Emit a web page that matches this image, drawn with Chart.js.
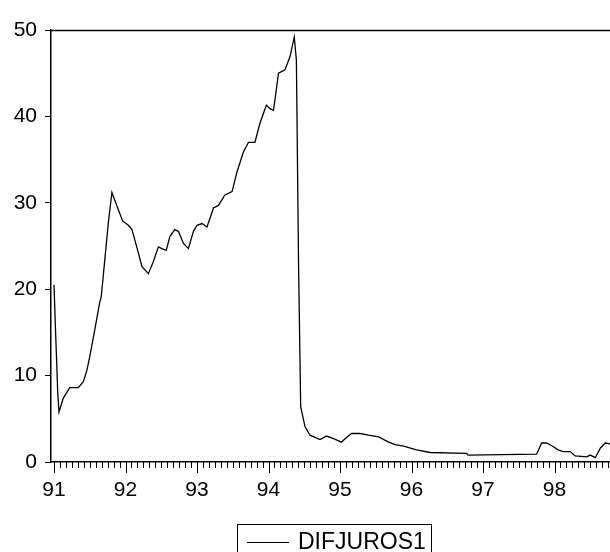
<!DOCTYPE html>
<html>
<head>
<meta charset="utf-8">
<script src="https://cdn.jsdelivr.net/npm/chart.js@4.4.1/dist/chart.umd.min.js"></script>
<style>
  html, body { margin: 0; padding: 0; background: #fff; }
  canvas { display: block; }
</style>
</head>
<body>
<canvas id="c" width="610" height="552"></canvas>
<script>
// datos (fecha en años decimales)
const seriesName = 'DIFJUROS1';
const fechas = [
  91.00, 91.02, 91.04, 91.052, 91.07, 91.13, 91.22, 91.34, 91.41, 91.46,
  91.50, 91.57, 91.64, 91.66, 91.70, 91.76, 91.81, 91.85, 91.90, 91.96,
  92.04, 92.09, 92.13, 92.18, 92.23, 92.32, 92.39, 92.46, 92.51, 92.57,
  92.62, 92.69, 92.74, 92.81, 92.88, 92.95, 93.00, 93.07, 93.14, 93.23,
  93.30, 93.39, 93.49, 93.56, 93.65, 93.72, 93.81, 93.88, 93.97, 94.02,
  94.07, 94.14, 94.23, 94.30, 94.36, 94.39, 94.42, 94.45, 94.51, 94.58,
  94.72, 94.81, 94.91, 95.02, 95.07, 95.16, 95.28, 95.40, 95.54, 95.68,
  95.77, 95.89, 96.07, 96.26, 96.77, 96.79, 97.75, 97.82, 97.89, 97.98,
  98.05, 98.12, 98.22, 98.29, 98.45, 98.50, 98.57, 98.64, 98.71, 98.78
];
const valores = [
  20.5, 15.5, 11.0, 8.0, 5.8, 7.4, 8.6, 8.6, 9.3, 10.6,
  12.2, 15.3, 18.5, 19.1, 22.5, 27.7, 31.2, 30.3, 29.2, 27.9,
  27.4, 26.9, 25.7, 24.2, 22.6, 21.8, 23.2, 24.9, 24.7, 24.5,
  26.1, 26.9, 26.7, 25.3, 24.7, 26.7, 27.4, 27.6, 27.2, 29.4,
  29.7, 30.9, 31.3, 33.6, 35.9, 37.0, 37.0, 39.2, 41.3, 40.9,
  40.7, 45.0, 45.4, 46.9, 49.2, 46.5, 23.0, 6.4, 4.1, 3.1,
  2.6, 3.0, 2.7, 2.3, 2.7, 3.3, 3.3, 3.1, 2.9, 2.3,
  2.0, 1.85, 1.4, 1.1, 1.0, 0.8, 0.9, 2.2, 2.2, 1.8,
  1.4, 1.2, 1.2, 0.7, 0.6, 0.8, 0.5, 1.6, 2.2, 2.1
];
const yTicks = [0, 10, 20, 30, 40, 50];
const xTicks = [91, 92, 93, 94, 95, 96, 97, 98];

const fuente = '"Liberation Sans", Arial, sans-serif';

// marco superior, ticks mensuales y leyenda con recuadro
const estiloEviews = {
  id: 'estiloEviews',
  afterDraw(chart) {
    const ctx = chart.ctx;
    const area = chart.chartArea;
    const xs = chart.scales.x;
    ctx.save();
    ctx.strokeStyle = '#000';
    ctx.lineWidth = 1.5;
    ctx.beginPath();
    ctx.moveTo(area.left, area.top + 0.5);
    ctx.lineTo(chart.width, area.top + 0.5);
    ctx.stroke();

    ctx.lineWidth = 1;
    ctx.beginPath();
    for (let m = 0; m <= 12 * 8; m++) {
      const v = 91 + m / 12;
      if (v > xs.max) break;
      const px = Math.round(xs.getPixelForValue(v)) + 0.5;
      const len = m % 12 === 0 ? 11 : 6;
      ctx.moveTo(px, area.bottom);
      ctx.lineTo(px, area.bottom + len);
    }
    ctx.stroke();

    // leyenda
    ctx.lineWidth = 1;
    ctx.strokeRect(237.5, 524.5, 194, 40);
    ctx.beginPath();
    ctx.moveTo(247, 542.5);
    ctx.lineTo(289, 542.5);
    ctx.stroke();
    ctx.fillStyle = '#000';
    ctx.font = '23px ' + fuente;
    ctx.textBaseline = 'alphabetic';
    ctx.fillText(chart.data.datasets[0].label, 298, 549);
    ctx.restore();
  }
};

new Chart(document.getElementById('c').getContext('2d'), {
  type: 'line',
  data: {
    datasets: [{
      label: seriesName,
      data: fechas.map((f, i) => ({ x: f, y: valores[i] })),
      borderColor: '#000',
      borderWidth: 1.3,
      pointRadius: 0,
      tension: 0,
      fill: false
    }]
  },
  options: {
    responsive: false,
    animation: false,
    devicePixelRatio: 1,
    layout: { padding: { top: 30, right: 0, bottom: 0, left: 0 } },
    plugins: { legend: { display: false }, tooltip: { enabled: false } },
    scales: {
      x: {
        type: 'linear',
        min: 90.958,
        max: 98.776,
        afterBuildTicks: s => { s.ticks = xTicks.map(v => ({ value: v })); },
        afterFit: s => { s.height = 90; },
        border: { display: true, color: '#000', width: 1.5 },
        grid: { display: false },
        ticks: {
          color: '#000',
          font: { family: fuente, size: 21 },
          padding: 8,
          maxRotation: 0,
          autoSkip: false,
          callback: v => String(v)
        }
      },
      y: {
        min: 0,
        max: 50,
        afterBuildTicks: s => { s.ticks = yTicks.map(v => ({ value: v })); },
        afterFit: s => { s.width = 51; },
        border: { display: true, color: '#000', width: 1.5 },
        grid: { drawOnChartArea: false, drawTicks: true, tickLength: 6, color: '#000' },
        ticks: {
          color: '#000',
          font: { family: fuente, size: 21 },
          padding: 8,
          callback: v => String(v)
        }
      }
    }
  },
  plugins: [estiloEviews]
});
</script>
</body>
</html>
